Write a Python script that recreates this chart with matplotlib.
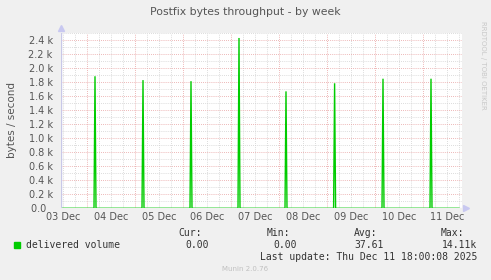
import matplotlib
matplotlib.use("Agg")
import matplotlib.pyplot as plt
import numpy as np

# data: spike times (hours since 03 Dec 00:00) and peak values (bytes/s)
spike_hours = [28, 52, 76, 100, 123.5, 147.8, 172, 196]
spike_values = [1880, 1825, 1810, 2425, 1665, 1780, 1845, 1845]
day_labels = ["03 Dec", "04 Dec", "05 Dec", "06 Dec", "07 Dec", "08 Dec", "09 Dec", "10 Dec", "11 Dec"]
ytick_vals = [0, 200, 400, 600, 800, 1000, 1200, 1400, 1600, 1800, 2000, 2200, 2400]
ytick_labels = ["0.0  "] + ["%.1f k" % (v / 1000) for v in ytick_vals[1:]]
legend_name = "delivered volume"
stat_heads = ["Cur:", "Min:", "Avg:", "Max:"]
stat_vals = ["0.00", "0.00", "37.61", "14.11k"]

XMIN, XMAX = 11.0, 211.5
YMAX = 2500

# build line series
xs = [XMIN]
ys = [0]
for h, v in zip(spike_hours, spike_values):
    xs += [h - 0.5, h, h + 0.5]
    ys += [0, v, 0]
xs.append(XMAX - 1.5)
ys.append(0)

fig = plt.figure(figsize=(4.91, 2.80), dpi=100)
fig.patch.set_facecolor("#F0F0F0")
ax = fig.add_axes([61 / 491, 1 - 208.3 / 280, (462 - 61) / 491, (208.3 - 32.7) / 280])
ax.set_facecolor("white")
ax.set_xlim(XMIN, XMAX)
ax.set_ylim(0, YMAX)

# grids
for h in np.arange(12, XMAX, 6):
    if h % 24 == 0:
        continue
    ax.axvline(h, color="#D0D0D0", lw=0.6, ls=(0, (1, 1.5)), zorder=1)
for h in np.arange(24, XMAX, 24):
    ax.axvline(h, color="#E8A0A0", lw=0.6, ls=(0, (1, 1.5)), zorder=1)
for v in np.arange(100, YMAX + 1, 200):
    ax.axhline(v, color="#D0D0D0", lw=0.6, ls=(0, (1, 1.5)), zorder=1)
for v in ytick_vals[1:]:
    ax.axhline(v, color="#E8A0A0", lw=0.6, ls=(0, (1, 1.5)), zorder=1)

ax.plot(xs, ys, color="#00CC00", lw=1.0, zorder=3, solid_joinstyle="miter")

for s in ax.spines.values():
    s.set_visible(False)
ax.axvline(XMIN, color="#C8C8E8", lw=1.0, zorder=4)
ax.axhline(0, color="#C8C8E8", lw=0.8, zorder=2)
ax.plot([XMIN], [YMAX + 60], marker="^", color="#C8C8F0", ms=4, clip_on=False, zorder=5)
ax.plot([XMAX + 2], [0], marker=">", color="#C8C8F0", ms=4, clip_on=False, zorder=5)

ax.set_yticks(ytick_vals)
ax.set_yticklabels(ytick_labels)
ax.set_xticks([12 + 24 * i for i in range(len(day_labels))])
ax.set_xticklabels(day_labels)
ax.tick_params(axis="both", length=0, labelsize=7, colors="#555555", pad=2.5)
ax.tick_params(axis="y", pad=6)

fig.text(245.5 / 491, 1 - 12 / 280, "Postfix bytes throughput - by week", ha="center", va="center",
         fontsize=7.8, color="#555555")
fig.text(12 / 491, 1 - 120 / 280, "bytes / second", rotation=90, ha="center", va="center",
         fontsize=7.5, color="#555555")
fig.text(483 / 491, 1 - 65 / 280, "RRDTOOL / TOBI OETIKER", rotation=270, ha="center", va="center",
         fontsize=5, color="#C8C8C8")

mono = "DejaVu Sans Mono"
fig.patches.append(plt.Rectangle((14 / 491, 1 - 248 / 280), 6 / 491, 6 / 280, transform=fig.transFigure,
                                 color="#00CC00", figure=fig))
fig.text(26 / 491, 1 - 244.5 / 280, legend_name, ha="left", va="center", fontsize=7, family=mono, color="#333333")
head_x = [202, 290, 377, 464]
val_x = [209, 297, 384, 477]
for hx, hd in zip(head_x, stat_heads):
    fig.text(hx / 491, 1 - 233 / 280, hd, ha="right", va="center", fontsize=7, family=mono, color="#333333")
for vx, vv in zip(val_x, stat_vals):
    fig.text(vx / 491, 1 - 244.5 / 280, vv, ha="right", va="center", fontsize=7, family=mono, color="#333333")
fig.text(477 / 491, 1 - 256.5 / 280, "Last update: Thu Dec 11 18:00:08 2025", ha="right", va="center",
         fontsize=7, family=mono, color="#333333")
fig.text(245 / 491, 1 - 269 / 280, "Munin 2.0.76", ha="center", va="center", fontsize=5, color="#C0C0C0")

fig.savefig("out.png", dpi=100, facecolor=fig.get_facecolor())
